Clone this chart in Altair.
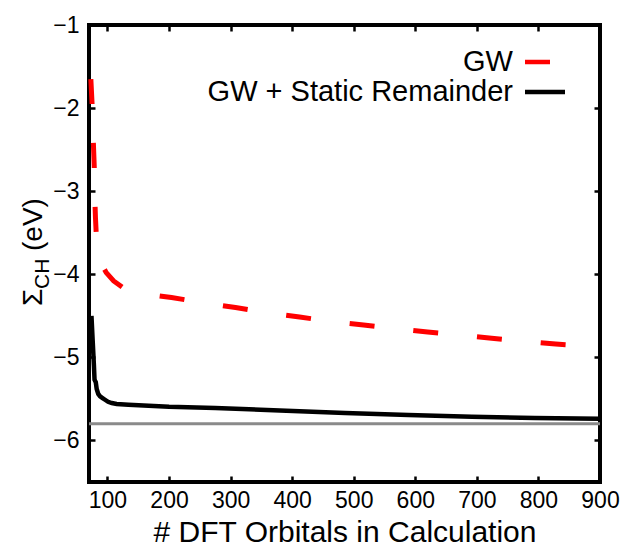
import altair as alt
import pandas as pd

# ---- data ----
gw_x = [73, 75, 77, 78.5, 79.5, 80.5, 82, 86, 92, 98, 110, 125, 145, 204, 266, 308,
        370, 412, 476, 516, 580, 620, 684, 724, 788, 828, 892, 900]
gw_y = [-1.65, -1.95, -2.4, -2.7, -3.1, -3.32, -3.55, -3.78, -3.90, -3.98, -4.08, -4.16,
        -4.22, -4.28, -4.355, -4.40, -4.475, -4.515, -4.58, -4.61, -4.665, -4.695,
        -4.74, -4.77, -4.815, -4.84, -4.87, -4.875]

sr_x = [74, 76, 78, 79, 81, 82.5, 85, 88, 92, 96, 101, 107, 115, 134, 200, 275,
        380, 486, 589, 692, 794, 900]
sr_y = [-4.5, -4.8, -5.1, -5.27, -5.30, -5.38, -5.44, -5.47, -5.49, -5.51, -5.535,
        -5.55, -5.56, -5.57, -5.595, -5.61, -5.64, -5.67, -5.695, -5.715, -5.73, -5.74]

ref_y = [-5.8]

x_ticks = [100, 200, 300, 400, 500, 600, 700, 800, 900]
y_ticks = [-1, -2, -3, -4, -5, -6]
x_domain = [70, 900]
y_domain = [-6.5, -1]

series_names = ["GW", "GW + Static Remainder"]
series_colors = ["#ff0000", "#000000"]
series_dash = [[25, 39], [1, 0]]

x_title = "# DFT Orbitals in Calculation"
y_title_parts = ["\u03a3", "CH", "(eV)"]

FONT = "Liberation Sans"
W, H = 511, 457
TICK = 6

xscale = alt.Scale(domain=x_domain, nice=False, zero=False)
yscale = alt.Scale(domain=y_domain, nice=False, zero=False)

common_axis = dict(domain=False, grid=False, tickSize=TICK, offset=-TICK,
                   tickColor="black", tickWidth=2.5, labelFont=FONT,
                   labelFontSize=23, labelColor="black", titleFont=FONT,
                   titleColor="black", titleFontWeight="normal", format="d",
                   labelFlush=False, labelOverlap=False, labelBound=False)

x_bottom = alt.Axis(values=x_ticks, orient="bottom", labelPadding=7,
                    title=x_title, titleFontSize=30, titlePadding=5, **common_axis)
y_left = alt.Axis(values=y_ticks, orient="left", labelPadding=10, title="",
                  **common_axis)
x_top = alt.Axis(values=x_ticks, orient="top", labels=False, title="", **common_axis)
y_right = alt.Axis(values=y_ticks, orient="right", labels=False, title="", **common_axis)

gw_df = pd.DataFrame({"x": gw_x, "y": gw_y})
sr_df = pd.DataFrame({"x": sr_x, "y": sr_y})
ref_df = pd.DataFrame({"y": ref_y})

ref_line = alt.Chart(ref_df).mark_rule(color="#8a8a8a", strokeWidth=3).encode(
    y=alt.Y("y:Q", scale=yscale, axis=None)
)

sr_line = alt.Chart(sr_df).mark_line(
    color=series_colors[1], strokeWidth=4.5, interpolate="linear"
).encode(
    x=alt.X("x:Q", scale=xscale, axis=x_bottom),
    y=alt.Y("y:Q", scale=yscale, axis=y_left),
    order="x:Q",
)

gw_line = alt.Chart(gw_df).mark_line(
    color=series_colors[0], strokeWidth=5, strokeDash=series_dash[0],
    interpolate="linear"
).encode(
    x=alt.X("x:Q", scale=xscale, axis=x_top),
    y=alt.Y("y:Q", scale=yscale, axis=y_right),
    order="x:Q",
)

layers = [ref_line, sr_line, gw_line]

# legend (inside, top right): label right-aligned, sample to its right
for i, (name, col, dash) in enumerate(zip(series_names, series_colors, series_dash)):
    ldf = pd.DataFrame({"label": [name]})
    yy = 37 + 30 * i
    layers.append(
        alt.Chart(ldf).mark_text(align="right", baseline="middle", font=FONT,
                                 fontSize=29, color="black").encode(
            text="label:N", x=alt.value(424), y=alt.value(yy))
    )
    layers.append(
        alt.Chart(ldf).mark_rule(color=col, strokeWidth=4.5, strokeDash=dash).encode(
            x=alt.value(436), x2=alt.value(476), y=alt.value(yy))
    )

# y-axis title with subscript, built from three rotated text pieces
ypos = [(-47, 281, 28), (-40, 264, 21), (-47, 226, 28)]
for part, (xx, yy, fs) in zip(y_title_parts, ypos):
    layers.append(
        alt.Chart(pd.DataFrame({"t": [part]})).mark_text(
            angle=270, align="left", baseline="alphabetic", font=FONT,
            fontSize=fs, color="black").encode(
            text="t:N", x=alt.value(xx), y=alt.value(yy))
    )

chart = alt.layer(*layers).resolve_axis(
    x="independent", y="independent"
).properties(
    width=W, height=H,
    padding={"left": 89, "top": 25, "right": 27, "bottom": 68},
    autosize=alt.AutoSizeParams(type="none"),
    background="white",
).configure_view(stroke="black", strokeWidth=4)

chart.save("out.html", embed_options={"renderer": "svg", "actions": False})
